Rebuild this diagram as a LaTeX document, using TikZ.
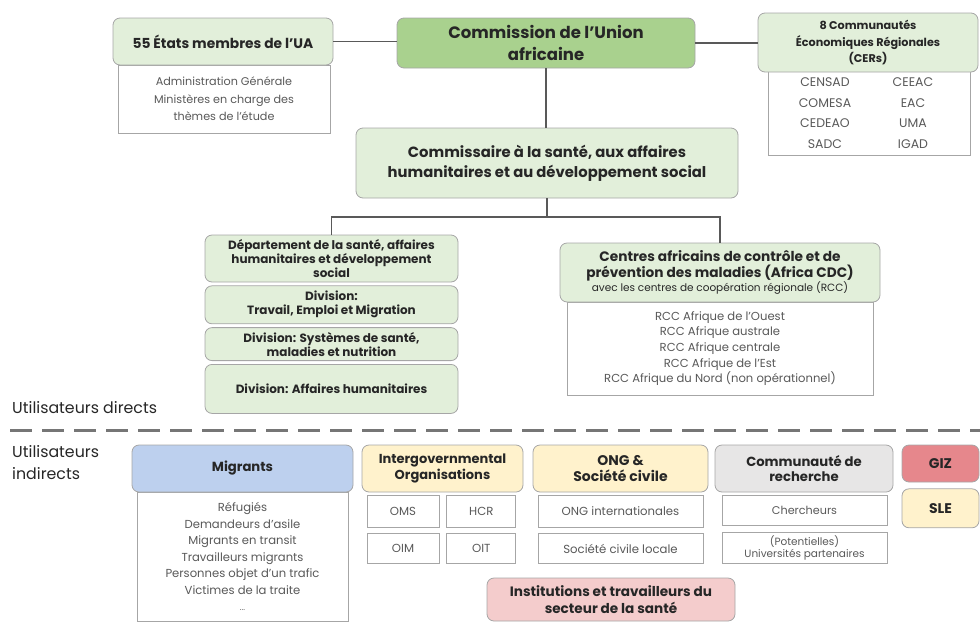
\documentclass[tikz,border=0pt]{standalone}
\usepackage{fontspec}
\setmainfont{Poppins}
\usepackage{tikz}
\usepackage{xcolor}
\usepackage{array}
\usetikzlibrary{positioning}
\definecolor{vertfonce}{HTML}{A9D18E}
\definecolor{vertclair}{HTML}{E2EFDA}
\definecolor{bleuclair}{HTML}{BDD0EE}
\definecolor{jaune}{HTML}{FFF2CC}
\definecolor{rose}{HTML}{F4CCCC}
\definecolor{rouge}{HTML}{E6878C}
\definecolor{grisclair}{HTML}{E7E6E6}
\definecolor{bord}{HTML}{A6A6A6}
\definecolor{texte}{HTML}{595959}
\definecolor{titre}{HTML}{262626}
\definecolor{trait}{HTML}{595959}
\definecolor{tirets}{HTML}{767676}

\begin{document}
\begin{tikzpicture}[x=1pt,y=-1pt,
    basic/.style={draw=bord,line width=0.8pt,align=center,inner sep=1pt},
    header/.style={basic,rounded corners=7pt,fill=vertclair,text=titre,font=\bfseries\fontsize{13.2}{15.5}\selectfont},
    liste/.style={basic,fill=white,text=texte,font=\fontsize{11.6}{16.5}\selectfont},
    division/.style={header,minimum width=253pt,font=\bfseries\fontsize{12}{14}\selectfont},
    petit/.style={basic,fill=white,text=texte,font=\fontsize{11.7}{13}\selectfont},
    lien/.style={draw=trait,line width=1.6pt},
]
\useasboundingbox (0,0) rectangle (980,622);

% niveau continental
\node[liste,minimum width=212pt,minimum height=68pt,font=\fontsize{11.2}{17.5}\selectfont] (ua) at (224,99) {Administration Générale\\Ministères en charge des\\thèmes de l'étude};
\node[header,minimum width=220pt,minimum height=47pt,font=\bfseries\fontsize{13.8}{16}\selectfont] (etats) at (223,41.5) {55 États membres de l'UA};
\node[header,fill=vertfonce,minimum width=298pt,minimum height=50pt,font=\bfseries\fontsize{16.5}{22}\selectfont] (cua) at (546,43) {Commission de l'Union\\africaine};
\node[liste,minimum width=202pt,minimum height=83pt,font=\fontsize{12.5}{20.5}\selectfont] (cerliste) at (869,113.5) {%
    \begin{tabular}{@{}>{\centering\arraybackslash}p{88pt}@{}>{\centering\arraybackslash}p{88pt}@{}}
    CENSAD & CEEAC\\
    COMESA & EAC\\
    CEDEAO & UMA\\
    SADC & IGAD
    \end{tabular}};
\node[header,minimum width=220pt,minimum height=59pt,font=\bfseries\fontsize{11.2}{16.5}\selectfont] (cers) at (868,42.5) {8 Communautés\\Économiques Régionales\\(CERs)};
    \path[lien] (etats.east) -- (etats.east -| cua.west);
    \path[lien] (cua.east) -- (cua.east -| cers.west);

\node[header,minimum width=382pt,minimum height=70pt,font=\bfseries\fontsize{14.8}{20}\selectfont] (cms) at (547,163) {Commissaire à la santé, aux affaires\\humanitaires et au développement social};
    \path[lien] (cua.south) -- (cua.south |- cms.north);

% departement et divisions
\node[division,minimum height=47pt] (dept) at (331.5,258.5) {Département de la santé, affaires\\humanitaires et développement\\social};
\node[division,minimum height=38pt,below=3pt of dept] (divtrav) {Division:\\Travail, Emploi et Migration};
\node[division,minimum height=33pt,below=3pt of divtrav] (divsys) {Division: Systèmes de santé,\\maladies et nutrition};
\node[division,minimum height=49pt,below=3pt of divsys] (divhum) {Division: Affaires humanitaires};

% Africa CDC
\node[liste,minimum width=306pt,minimum height=93pt,font=\fontsize{11.6}{15.7}\selectfont] (rcc) at (720,348.5) {RCC Afrique de l'Ouest\\RCC Afrique australe\\RCC Afrique centrale\\RCC Afrique de l'Est\\RCC Afrique du Nord (non opérationnel)};
\node[header,minimum width=320pt,minimum height=59pt,font=\bfseries\fontsize{13.7}{16}\selectfont] (cdc) at (720,272.5) {Centres africains de contrôle et de\\prévention des maladies (Africa CDC)\\[-2pt]{\mdseries\fontsize{10.5}{13}\selectfont avec les centres de coopération régionale (RCC)}};

\coordinate (jct) at (547,217);
    \path[lien] (cms.south) -- (jct);
    \path[lien] (dept.north) |- (jct) -| (cdc.north);

% separation utilisateurs
\node[anchor=west,text=titre,font=\fontsize{15.8}{22}\selectfont,inner sep=0pt] (directs) at (12,408) {Utilisateurs directs};
\path[draw=tirets,line width=3pt,dash pattern=on 22pt off 10pt] (10,430) -- (980,430);
\node[anchor=north west,align=left,text=titre,font=\fontsize{15.8}{22}\selectfont,inner sep=0pt] (indirects) at (12,445) {Utilisateurs\\indirects};

% utilisateurs indirects
\node[liste,minimum width=211pt,minimum height=129pt] (migliste) at (242.5,556.5) {Réfugiés\\Demandeurs d'asile\\Migrants en transit\\Travailleurs migrants\\Personnes objet d'un trafic\\Victimes de la traite\\{\fontsize{8}{8}\selectfont ...}};
\node[header,fill=bleuclair,minimum width=221pt,minimum height=47pt] (migrants) at (242.5,468.5) {Migrants};

\node[header,fill=jaune,minimum width=161pt,minimum height=47pt,font=\bfseries\fontsize{13}{15.5}\selectfont] (oig) at (442.5,468.5) {Intergovernmental\\Organisations};
\node[petit,minimum width=72pt,minimum height=32pt] (oms) at (403,511) {OMS};
\node[petit,minimum width=69pt,minimum height=32pt,right=7pt of oms] (hcr) {HCR};
\node[petit,minimum width=72pt,minimum height=30pt,below=6pt of oms] (oim) {OIM};
\node[petit,minimum width=69pt,minimum height=30pt,below=6pt of hcr] (oit) {OIT};

\node[header,fill=jaune,minimum width=175pt,minimum height=47pt,font=\bfseries\fontsize{14}{16}\selectfont] (ong) at (620.5,468.5) {ONG \&\\Société civile};
\node[petit,minimum width=165pt,minimum height=32pt] (ongint) at (620.5,511) {ONG internationales};
\node[petit,minimum width=165pt,minimum height=30pt,below=6pt of ongint] (scl) {Société civile locale};

\node[header,fill=rose,minimum width=248pt,minimum height=43pt,font=\bfseries\fontsize{13.6}{17}\selectfont] (sante) at (611,599.5) {Institutions et travailleurs du\\secteur de la santé};

\node[header,fill=grisclair,minimum width=178pt,minimum height=47pt] (rech) at (804,468.5) {Communauté de\\recherche};
\node[petit,minimum width=165pt,minimum height=30pt,font=\fontsize{11.2}{13}\selectfont] (cherch) at (804.5,510) {Chercheurs};
\node[petit,minimum width=165pt,minimum height=31pt,below=7pt of cherch,font=\fontsize{10.5}{12}\selectfont] (univ) {(Potentielles)\\Universités partenaires};

\node[header,fill=rouge,minimum width=77pt,minimum height=37pt,font=\bfseries\fontsize{14}{16}\selectfont] (giz) at (940.5,463.5) {GIZ};
\node[header,fill=jaune,minimum width=77pt,minimum height=39pt,below=6pt of giz,font=\bfseries\fontsize{14}{16}\selectfont] (sle) {SLE};
\end{tikzpicture}
\end{document}
